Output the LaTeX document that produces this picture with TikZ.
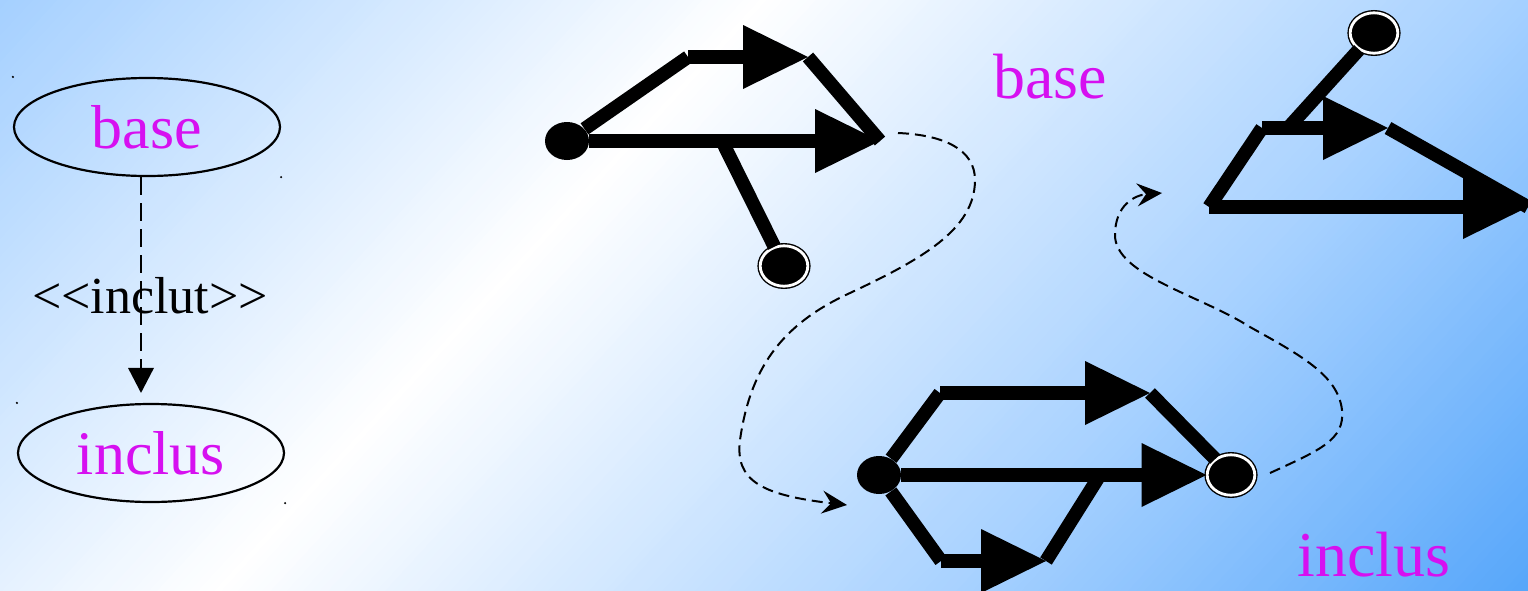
\documentclass[tikz,border=0pt]{standalone}
\usepackage{fontspec}
\setmainfont{Liberation Serif}[Ligatures=TeXOff]
\usetikzlibrary{arrows.meta, shapes.geometric}

\definecolor{magen}{RGB}{214,16,240}
\definecolor{bgA}{RGB}{165,208,255}
\definecolor{bgB}{RGB}{86,166,250}

\begin{document}
\begin{tikzpicture}[
  x=0.5pt, y=-0.5pt,
  thk/.style={line width=6.8pt, draw=black},
  tip/.style={-{Triangle[length=32.5pt,width=32pt,line width=0pt]}},
  flow/.style={line width=1pt, dash pattern=on 5.5pt off 3pt,
    -{Stealth[length=12.5pt,width=11.5pt,inset=4.5pt]}},
  incl/.style={line width=1.3pt, dash pattern=on 9pt off 4pt,
    -{Triangle[length=12.5pt,width=13pt,line width=0pt]}},
  uc/.style={ellipse, draw=black, line width=1.1pt, minimum width=133pt,
    minimum height=49pt, inner sep=0pt, text=magen, font=\fontsize{31}{36}\selectfont},
  init/.style={ellipse, fill=black, minimum width=22pt, minimum height=19pt, inner sep=0pt},
  final/.style={ellipse, fill=black, draw=black, line width=0.7pt, double=white,
    double distance=1.4pt, minimum width=23.8pt, minimum height=20.2pt, inner sep=0pt},
  tag/.style={text=magen, font=\fontsize{32}{36}\selectfont, inner sep=0pt}
]
\useasboundingbox (0,0) rectangle (1528,590);
% ================= BACKGROUND =================
% diagonal gradient: light blue -> white -> light blue -> blue
\begin{scope}
  \clip (0,0) rectangle (1528,590);
  \foreach \i in {0,...,254} {
    \pgfmathsetmacro\ta{\i*6}
    \pgfmathsetmacro\tb{\i*6+7}
    \pgfmathsetmacro\tm{\i*6+3}
    \pgfmathtruncatemacro\pa{min(100,max(0,\tm/5.58))}
    \pgfmathtruncatemacro\pb{min(100,max(0,(\tm-558)/5.6))}
    \pgfmathtruncatemacro\pc{min(100,max(0,(\tm-1118)/4.06))}
    \ifnum\pc>0
      \colorlet{bgcur}{bgB!\pc!bgA}
    \else\ifnum\pb>0
      \colorlet{bgcur}{bgA!\pb!white}
    \else
      \colorlet{bgcur}{white!\pa!bgA}
    \fi\fi
    \fill[bgcur] (0.7349*\ta+1085, 0.6782*\ta-1176) -- (0.7349*\ta-1085, 0.6782*\ta+1176)
      -- (0.7349*\tb-1085, 0.6782*\tb+1176) -- (0.7349*\tb+1085, 0.6782*\tb-1176) -- cycle;
  }
\end{scope}

% ================= USE CASES =================
\node[uc] (base) at (147,127) {base\hspace{8pt}};
\node[uc] (inclus) at (151,453) {inclus};
\fill (base.north -| base.west) circle (1.2);
\fill (base.south -| base.east) circle (1.2);
\fill (inclus.north -| inclus.west) circle (1.2);
\fill (inclus.south -| inclus.east) circle (1.2);
\draw[incl, shorten >=5pt] ([xshift=-3pt]base.south)
  -- ([xshift=-3pt]base.south |- inclus.north);
\node[font=\fontsize{26}{30}\selectfont, inner sep=0pt] (stereo) at (150,296) {<<inclut>>};

% ================= BASE FRAGMENT =================
\node[init] (s1) at (567,141) {};
\node[final] (f1) at (784,266) {};
\coordinate (a1) at (688,57);
\coordinate (t1) at (808,57);
\coordinate (b1) at (880,141);
\coordinate (c1) at (722,141);
\draw[thk] (s1) -- (a1);
\draw[thk, tip] (a1) -- (t1);
\draw[thk] (t1) -- (b1);
\draw[thk, tip] (s1) -- (b1);
\draw[thk] (c1) -- (f1);
\node[tag] (lbase) at (1050,77) {base};

% ================= INCLUDED FRAGMENT =================
\node[final] (f2) at (1374,33) {};
\coordinate (a2) at (1262,128);
\coordinate (c2) at (1288,128);
\coordinate (t2) at (1388,128);
\coordinate (d2) at (1209,207);
\coordinate (b2) at (1528,207);
\draw[thk] (c2) -- (f2);
\draw[thk] (a2) -- (d2);
\draw[thk, tip] (a2) -- (t2);
\draw[thk] (t2) -- (b2);
\draw[thk, tip] (d2) -- (b2);

% ================= RESULT =================
\node[init] (s3) at (879,475) {};
\node[final] (f3) at (1231,475) {};
\coordinate (a3) at (940,393);
\coordinate (t3) at (1150,393);
\coordinate (e3) at (941,561);
\coordinate (g3) at (1046,561);
\coordinate (c3) at (1100,475);
\draw[thk] (s3) -- (a3);
\draw[thk, tip] (a3) -- (t3);
\draw[thk] (t3) -- (f3);
\draw[thk, tip] (s3) -- (f3);
\draw[thk] (s3) -- (e3);
\draw[thk, tip] (e3) -- (g3);
\draw[thk] (g3) -- (c3);
\node[tag] (linclus) at (1374,555) {inclus};

% ================= FLOWS =================
\coordinate (u1) at (898,133);
\coordinate (v1) at (847,505);
\draw[flow] (u1) .. controls (945,135) and (975,150) .. (975,180)
  .. controls (975,230) and (920,260) .. (850,293)
  .. controls (780,325) and (750,370) .. (740,440)
  .. controls (735,480) and (760,495) .. (v1);
\coordinate (u2) at (1270,473);
\coordinate (v2) at (1162,193);
\draw[flow] (u2) .. controls (1320,450) and (1345,440) .. (1342,410)
  .. controls (1338,375) and (1300,355) .. (1250,327)
  .. controls (1200,295) and (1115,275) .. (1115,235)
  .. controls (1115,205) and (1135,195) .. (v2);
\end{tikzpicture}
\end{document}
